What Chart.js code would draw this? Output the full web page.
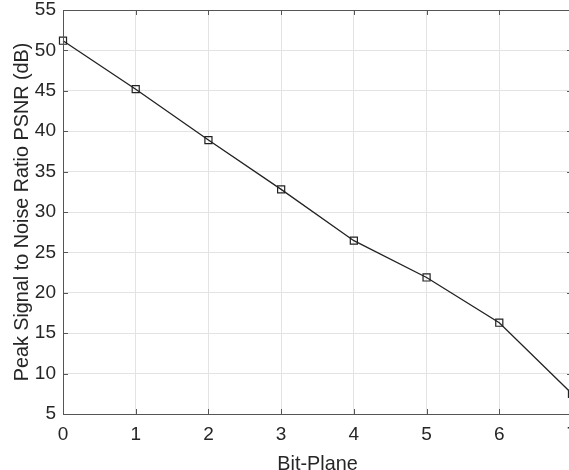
<!DOCTYPE html>
<html>
<head>
<meta charset="utf-8">
<script src="https://cdn.jsdelivr.net/npm/chart.js@4"></script>
<style>
  html, body { margin: 0; padding: 0; background: #fff; overflow: hidden; }
  #wrap { width: 569px; height: 470px; overflow: hidden; position: relative; }
  #box { width: 600px; height: 476px; position: absolute; left: 0; top: 0; }
</style>
</head>
<body>
<div id="wrap"><div id="box"><canvas id="chart"></canvas></div></div>
<script>
const bitPlanes = [0, 1, 2, 3, 4, 5, 6, 7];
const psnr = [51.2, 45.2, 38.9, 32.8, 26.45, 21.9, 16.3, 7.5];
const yTicks = [5, 10, 15, 20, 25, 30, 35, 40, 45, 50, 55];

// frame around the plot plus small inward ticks, like the original figure
const framePlugin = {
  id: 'frame',
  afterDraw(chart) {
    const { ctx, chartArea: a, scales } = chart;
    ctx.save();
    ctx.strokeStyle = '#555';
    ctx.lineWidth = 1;
    ctx.beginPath();
    ctx.moveTo(a.left + 0.5, a.bottom + 0.5);
    ctx.lineTo(a.left + 0.5, a.top + 0.5);
    ctx.lineTo(a.right + 0.5, a.top + 0.5);
    ctx.lineTo(a.right + 0.5, a.bottom + 0.5);
    ctx.closePath();
    ctx.stroke();
    ctx.beginPath();
    yTicks.forEach(v => {
      const y = Math.round(scales.y.getPixelForValue(v)) + 0.5;
      ctx.moveTo(a.left, y); ctx.lineTo(a.left + 5, y);
      ctx.moveTo(a.right, y); ctx.lineTo(a.right - 5, y);
    });
    bitPlanes.forEach(v => {
      const x = Math.round(scales.x.getPixelForValue(v)) + 0.5;
      ctx.moveTo(x, a.bottom); ctx.lineTo(x, a.bottom - 5);
      ctx.moveTo(x, a.top); ctx.lineTo(x, a.top + 5);
    });
    ctx.stroke();
    ctx.restore();
  }
};

const family = 'Liberation Sans, Arial, sans-serif';
const tickFont = { family, size: 19 };
const titleFont = { family, size: 19.8 };

new Chart(document.getElementById('chart'), {
  type: 'line',
  data: {
    datasets: [{
      data: bitPlanes.map((b, i) => ({ x: b, y: psnr[i] })),
      borderColor: '#222',
      borderWidth: 1.3,
      pointStyle: 'rect',
      pointRadius: 5,
      pointBorderWidth: 1.2,
      pointBorderColor: '#222',
      pointBackgroundColor: 'rgba(0,0,0,0)',
      tension: 0,
      clip: false
    }]
  },
  options: {
    animation: false,
    responsive: true,
    maintainAspectRatio: false,
    layout: { padding: { top: 10, right: 28, left: 0, bottom: 0 } },
    plugins: { legend: { display: false }, tooltip: { enabled: false } },
    scales: {
      x: {
        type: 'linear',
        min: 0, max: 7,
        afterBuildTicks: s => { s.ticks = bitPlanes.map(v => ({ value: v })); },
        afterFit: s => { s.height = 62; s.paddingLeft = 0; s.paddingRight = 0; },
        grid: { color: '#e3e3e3', tickLength: 0, drawTicks: false },
        border: { display: false },
        ticks: { color: '#262626', font: tickFont, padding: 9, maxRotation: 0 },
        title: { display: true, text: 'Bit-Plane', color: '#262626', font: titleFont, padding: { top: 0, bottom: 0 } }
      },
      y: {
        min: 5, max: 55,
        afterBuildTicks: s => { s.ticks = yTicks.map(v => ({ value: v })); },
        afterFit: s => { s.width = 63; s.paddingTop = 0; s.paddingBottom = 0; },
        grid: { color: '#e3e3e3', tickLength: 0, drawTicks: false },
        border: { display: false },
        ticks: { color: '#262626', font: tickFont, padding: 7 },
        title: { display: true, text: 'Peak Signal to Noise Ratio PSNR (dB)', color: '#262626', font: titleFont, padding: { top: 11, bottom: 0 } }
      }
    }
  },
  plugins: [framePlugin]
});
</script>
</body>
</html>
